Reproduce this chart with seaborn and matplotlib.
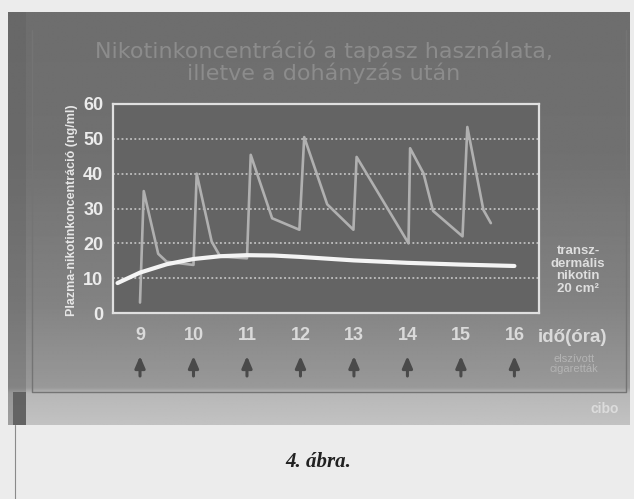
import numpy as np
import matplotlib
matplotlib.use("Agg")
import matplotlib.pyplot as plt
import seaborn as sns

# Plasma nicotine after cigarettes smoked on the hour (hours of the day, ng/ml)
cig_hours = [9.0, 9.07, 9.34, 9.5, 10.0, 10.06, 10.34, 10.5, 11.0, 11.07, 11.47,
             11.98, 12.07, 12.5, 12.99, 13.05, 14.02, 14.05, 14.3, 14.48, 15.03,
             15.12, 15.42, 15.56]
cig_conc = [3.0, 35.0, 17.0, 14.7, 13.8, 40.0, 20.5, 16.2, 15.7, 45.4, 27.2,
            23.9, 50.5, 31.2, 23.9, 44.8, 20.0, 47.3, 40.1, 29.3, 22.0,
            53.4, 29.6, 25.8]

# Plasma nicotine with a 20 cm2 transdermal patch
patch_hours = [8.58, 9.0, 9.5, 10.0, 10.5, 11.0, 11.5, 12.0, 12.5, 13.0, 14.0, 15.0, 16.0]
patch_conc = [8.6, 11.6, 14.0, 15.5, 16.3, 16.6, 16.5, 16.1, 15.6, 15.1, 14.4, 13.9, 13.5]

hour_ticks = [9, 10, 11, 12, 13, 14, 15, 16]
conc_ticks = [0, 10, 20, 30, 40, 50, 60]

title_lines = "Nikotinkoncentráció a tapasz használata,\nilletve a dohányzás után"
y_label = "Plazma-nikotinkoncentráció (ng/ml)"
x_label = "idő(óra)"
patch_label = "transz-\ndermális\nnikotin\n20 cm²"
smoke_label = "elszívott\ncigaretták"
caption = "4. ábra."

W, H = 634, 499
sns.set_style("white")
plt.rcParams["font.family"] = ["Liberation Sans", "DejaVu Sans"]

fig = plt.figure(figsize=(W / 100, H / 100), dpi=100)
fig.patch.set_facecolor("#ececec")

# Page / slide backdrop drawn in pixel coordinates
bg = fig.add_axes([0, 0, 1, 1], zorder=-10)
bg.set_xlim(0, W)
bg.set_ylim(H, 0)
bg.axis("off")
bg.add_patch(plt.Rectangle((0, 0), W, H, color="#ececec", zorder=0))
ys = np.linspace(12, 425, 300)
levels = np.interp(ys, [12, 150, 300, 388, 394, 425], [0.43, 0.44, 0.51, 0.60, 0.72, 0.76])
grad = np.repeat(levels[:, None], 2, axis=1)
bg.imshow(grad, cmap="gray", vmin=0, vmax=1, extent=(8, 630, 425, 12),
          aspect="auto", zorder=1, interpolation="bilinear")
bg.add_patch(plt.Rectangle((8, 12), 18, 413, color="#5e5e5e", alpha=0.35, zorder=2, lw=0))
bg.add_patch(plt.Rectangle((13, 392), 13, 33, color="#555555", alpha=0.8, zorder=2, lw=0))
bg.plot([32, 32, 626, 626], [30, 392, 392, 30], color="#747474", lw=1.0, zorder=3)
bg.plot([15, 15], [425, H], color="#8a8a8a", lw=0.8, zorder=3)
bg.text(605, 409, "cibo", color="#dcdcdc", fontsize=10, ha="center", va="center",
        fontweight="bold", zorder=4)
bg.text(324, 62, title_lines, color="#8c8c8c", fontsize=16, ha="center", va="center",
        family="DejaVu Sans", linespacing=1.0, zorder=4)
bg.text(318, 462, caption, color="#222222", fontsize=15, ha="center", va="center",
        family="Liberation Serif", fontweight="bold", style="italic", zorder=4)

# Main chart
ax = fig.add_axes([113 / W, 1 - 313 / H, 426 / W, 209 / H])
ax.set_facecolor("#646464")
sns.lineplot(x=cig_hours, y=cig_conc, ax=ax, color="#b0b0b0", lw=1.9, sort=False)
sns.lineplot(x=patch_hours, y=patch_conc, ax=ax, color="#f4f4f4", lw=3.0, sort=False)

ax.set_xlim(8.495, 16.46)
ax.set_ylim(0, 60)
ax.set_xticks(hour_ticks)
ax.set_yticks(conc_ticks)
for v in conc_ticks[1:-1]:
    ax.axhline(v, color="#d0d0d0", lw=1.1, ls=(0, (1.2, 1.6)), zorder=0.5)

for s in ax.spines.values():
    s.set_color("#e0e0e0")
    s.set_linewidth(1.6)

ax.tick_params(axis="x", colors="#e0e0e0", length=4, width=1, pad=6,
               labelsize=13, labelcolor="#dadada")
ax.tick_params(axis="y", colors="#e0e0e0", length=3, width=1, pad=4,
               labelsize=13, labelcolor="#ececec")
for lab in ax.get_xticklabels() + ax.get_yticklabels():
    lab.set_fontweight("bold")

ax.set_xlabel("")
ax.set_ylabel(y_label, color="#e6e6e6", fontsize=9, fontweight="bold")
ax.yaxis.set_label_coords(-0.082, 0.49)

axfrac = lambda py: (313 - py) / 209
ax.text(1.078, axfrac(337), x_label, transform=ax.transAxes, color="#dadada",
        fontsize=13.5, fontweight="bold", ha="center", va="center")
ax.text(1.083, axfrac(364), smoke_label, transform=ax.transAxes, color="#b4b4b4",
        fontsize=8, ha="center", va="center", linespacing=1.05)
ax.text(1.092, axfrac(270), patch_label, transform=ax.transAxes, color="#dedede",
        fontsize=9.5, fontweight="bold", ha="center", va="center", linespacing=1.05)

# Arrows marking each cigarette smoked
xt = ax.get_xaxis_transform()
for h in hour_ticks:
    ax.annotate("", xy=(h, axfrac(356)), xytext=(h, axfrac(376)),
                xycoords=xt, textcoords=xt, annotation_clip=False,
                arrowprops=dict(arrowstyle="-|>,head_length=0.7,head_width=0.3",
                                color="#4a4a4a", lw=2.2, shrinkA=0, shrinkB=0))

fig.savefig("out.png", dpi=100, facecolor=fig.get_facecolor())
